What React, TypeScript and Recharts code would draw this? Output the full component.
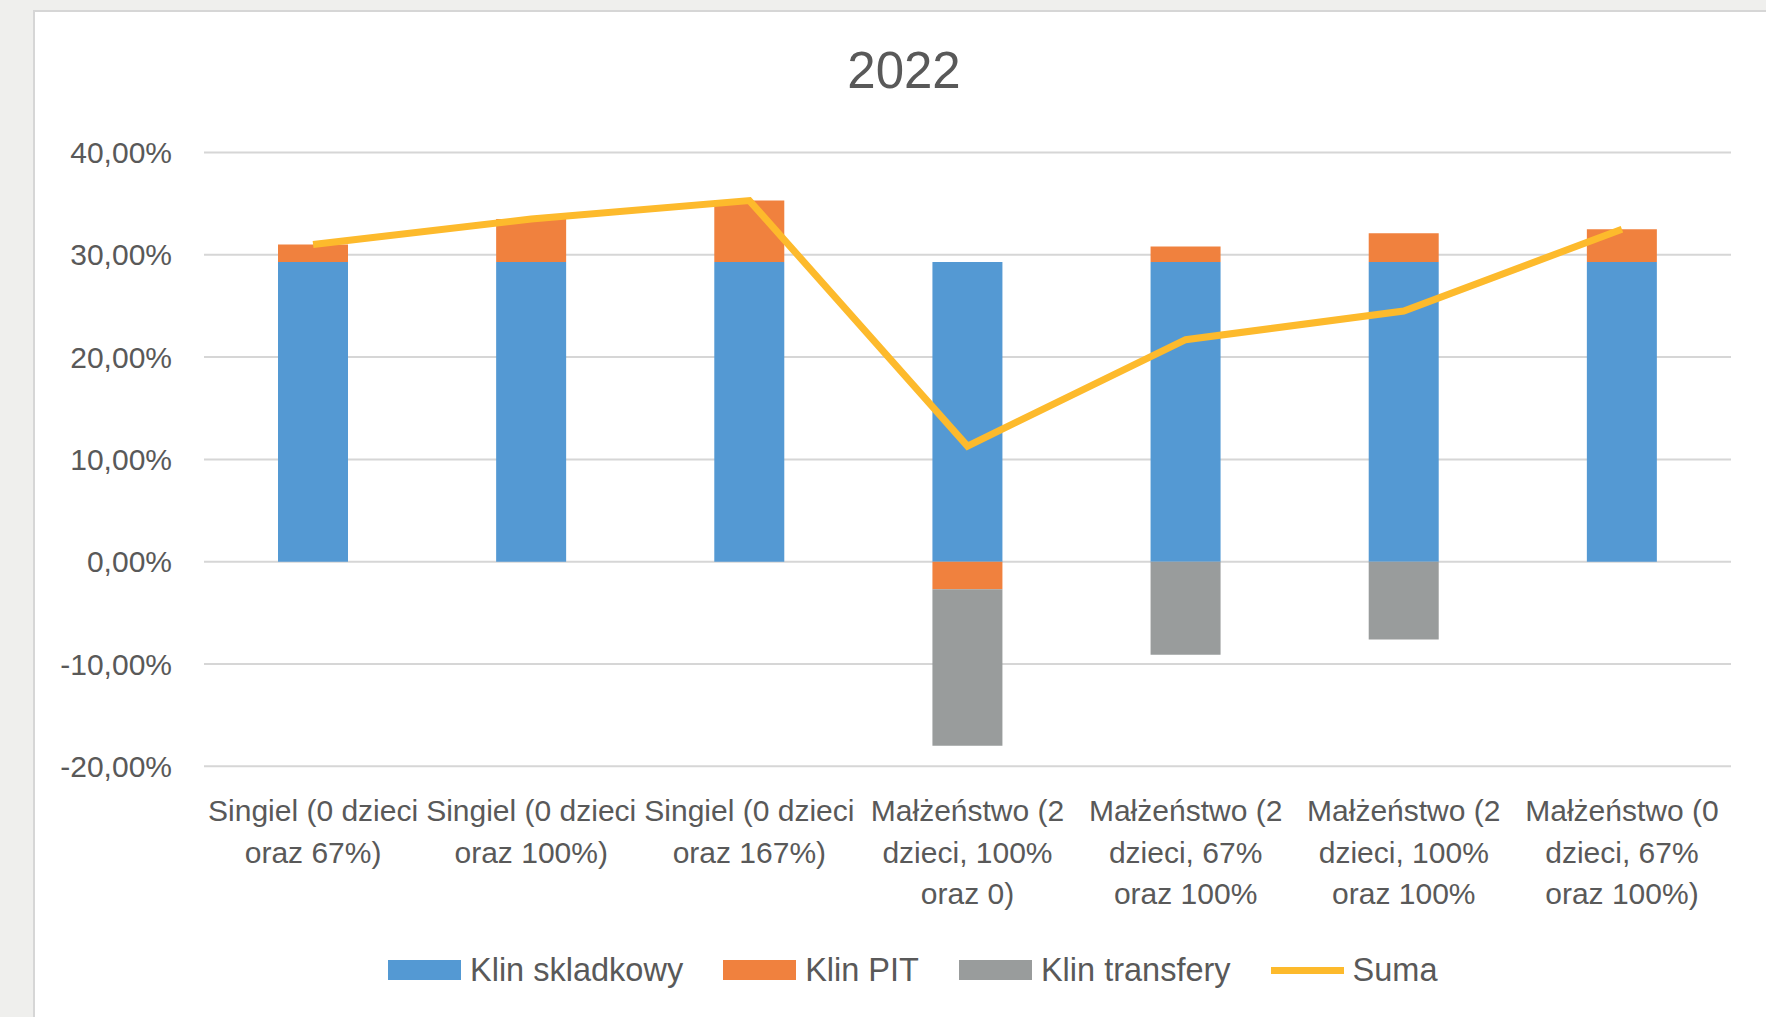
import React from 'react';
import { ComposedChart, Bar, Line, XAxis, YAxis, CartesianGrid, Legend } from 'recharts';

const categories = [
  'Singiel (0 dzieci\noraz 67%)',
  'Singiel (0 dzieci\noraz 100%)',
  'Singiel (0 dzieci\noraz 167%)',
  'Małżeństwo (2\ndzieci, 100%\noraz 0)',
  'Małżeństwo (2\ndzieci, 67%\noraz 100%',
  'Małżeństwo (2\ndzieci, 100%\noraz 100%',
  'Małżeństwo (0\ndzieci, 67%\noraz 100%)',
];
const klinSkladkowy = [29.3, 29.3, 29.3, 29.3, 29.3, 29.3, 29.3];
const klinPit = [1.7, 4.2, 6.0, -2.7, 1.5, 2.8, 3.2];
const klinTransfery = [0, 0, 0, -15.3, -9.1, -7.6, 0];
const suma = [31.0, 33.5, 35.3, 11.3, 21.7, 24.5, 32.5];
const yTicks = [-20, -10, 0, 10, 20, 30, 40];

const FONT = '"Liberation Sans", Arial, sans-serif';
const TEXT = '#595959';

const series = [
  { key: 'skl', name: 'Klin skladkowy', color: '#5499D3', kind: 'bar' },
  { key: 'pit', name: 'Klin PIT', color: '#F0813E', kind: 'bar' },
  { key: 'tr', name: 'Klin transfery', color: '#999C9C', kind: 'bar' },
  { key: 'suma', name: 'Suma', color: '#FDBA2C', kind: 'line' },
];

const data = categories.map((c, i) => ({
  cat: c,
  skl: klinSkladkowy[i],
  pit: klinPit[i],
  tr: klinTransfery[i],
  suma: suma[i],
}));

const fmt = (v: number) => v.toFixed(2).replace('.', ',') + '%';

function CatTick(props: any) {
  const { x, y, payload } = props;
  const lines = String(payload.value).split('\n');
  return (
    <g>
      {lines.map((ln, i) => (
        <text key={i} x={x} y={y + 55 + i * 41.5} textAnchor="middle" fill={TEXT} fontSize={30} fontFamily={FONT}>
          {ln}
        </text>
      ))}
    </g>
  );
}

function LegendBox() {
  return (
    <div style={{ display: 'flex', alignItems: 'center', height: 40, fontFamily: FONT, fontSize: 32.5, color: TEXT }}>
      {series.map((s) => (
        <div key={s.key} style={{ display: 'flex', alignItems: 'center', marginRight: 40 }}>
          <div
            style={{
              width: 73,
              height: s.kind === 'line' ? 7 : 20,
              background: s.color,
              marginRight: 9,
            }}
          />
          <span style={{ whiteSpace: 'nowrap' }}>{s.name}</span>
        </div>
      ))}
    </div>
  );
}

export default function App() {
  return (
    <div style={{ position: 'absolute', left: 0, top: 0, width: 1766, height: 1017, background: '#efefed', overflow: 'hidden' }}>
      <div
        style={{
          position: 'absolute',
          left: 33,
          top: 10,
          width: 1800,
          height: 1100,
          background: '#ffffff',
          border: '2px solid #d6d6d6',
        }}
      />
      <div
        style={{
          position: 'absolute',
          left: 0,
          top: 45,
          width: 1808,
          textAlign: 'center',
          fontFamily: FONT,
          fontSize: 51,
          lineHeight: '51px',
          color: TEXT,
        }}
      >
        2022
      </div>
      <div style={{ position: 'absolute', left: 0, top: 0 }}>
        <ComposedChart
          width={1766}
          height={1017}
          data={data}
          stackOffset="sign"
          margin={{ top: 152.5, right: 35, bottom: 27, left: 0 }}
        >
          <CartesianGrid vertical={false} stroke="#d6d6d6" strokeWidth={2} />
          <XAxis
            dataKey="cat"
            interval={0}
            height={183.7}
            tickLine={false}
            axisLine={false}
            tickSize={0}
            tickMargin={0}
            tick={<CatTick />}
          />
          <YAxis
            domain={[-20, 40]}
            ticks={yTicks}
            width={204}
            tickLine={false}
            axisLine={false}
            tickSize={0}
            tickMargin={32}
            tickFormatter={fmt}
            tick={{ fill: TEXT, fontSize: 30, fontFamily: FONT }}
          />
          {series
            .filter((s) => s.kind === 'bar')
            .map((s) => (
              <Bar key={s.key} dataKey={s.key} name={s.name} stackId="a" fill={s.color} barSize={70} isAnimationActive={false} />
            ))}
          <Line
            type="linear"
            dataKey="suma"
            name="Suma"
            stroke="#FDBA2C"
            strokeWidth={7}
            dot={false}
            activeDot={false}
            isAnimationActive={false}
          />
          <Legend verticalAlign="bottom" align="left" wrapperStyle={{ left: 388, width: 'auto' }} content={<LegendBox />} />
        </ComposedChart>
      </div>
    </div>
  );
}
